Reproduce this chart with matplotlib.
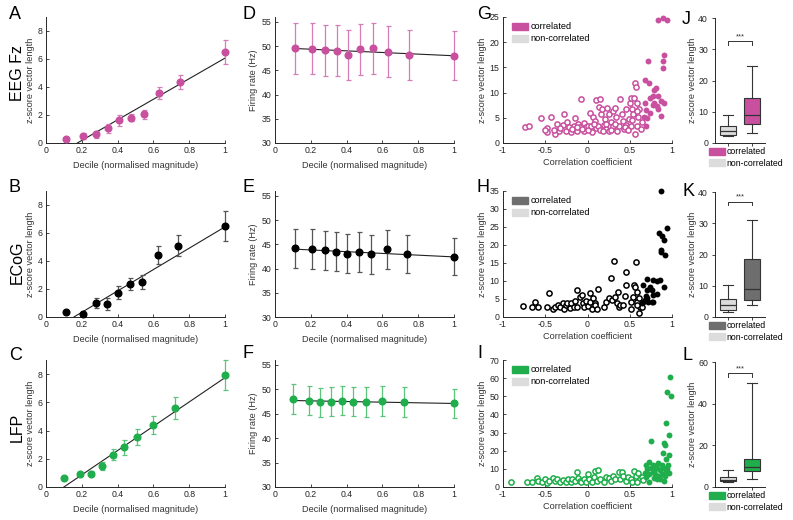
import matplotlib
matplotlib.use('Agg')
import matplotlib.pyplot as plt
import numpy as np
from matplotlib.patches import Patch

plt.rcParams['font.family'] = ['Liberation Sans', 'DejaVu Sans']
plt.rcParams['axes.unicode_minus'] = False

# ---------------- data ----------------
decile_A = [0.112, 0.209, 0.28, 0.345, 0.409, 0.476, 0.549, 0.632, 0.748, 1.0]
zvl_A = [0.28, 0.52, 0.62, 1.04, 1.63, 1.80, 2.06, 3.57, 4.36, 6.49]
zvl_A_err = [0.15, 0.2, 0.25, 0.3, 0.38, 0.25, 0.33, 0.42, 0.53, 0.85]
fit_A = (7.35, -1.286)
rate_D = [49.5, 49.45, 49.1, 49.05, 48.2, 49.3, 49.5, 48.85, 48.2, 48.0]
rate_D_err = [5.2, 5.3, 5.2, 5.2, 5.2, 5.3, 5.3, 5.3, 5.2, 5.1]
fit_D = (-1.69, 49.69)

decile_B = [0.11, 0.207, 0.277, 0.339, 0.4, 0.467, 0.538, 0.626, 0.739, 1.0]
zvl_B = [0.35, 0.2, 1.0, 0.95, 1.75, 2.35, 2.5, 4.42, 5.08, 6.48]
zvl_B_err = [0.08, 0.1, 0.38, 0.42, 0.48, 0.44, 0.5, 0.62, 0.75, 1.06]
fit_B = (7.63, -1.19)
rate_E = [44.2, 44.0, 43.8, 43.5, 43.1, 43.4, 42.9, 44.0, 43.0, 42.4]
rate_E_err = [4.0, 4.1, 4.0, 4.0, 4.1, 4.1, 4.0, 4.0, 3.9, 3.8]
fit_E = (-1.8, 44.2)

decile_C = [0.099, 0.188, 0.25, 0.311, 0.373, 0.436, 0.51, 0.6, 0.723, 1.0]
zvl_C = [0.62, 0.9, 0.95, 1.5, 2.3, 2.8, 3.55, 4.4, 5.6, 7.95]
zvl_C_err = [0.05, 0.1, 0.15, 0.3, 0.4, 0.5, 0.55, 0.65, 0.75, 1.05]
fit_C = (8.61, -0.861)
rate_F = [48.0, 47.7, 47.3, 47.5, 47.7, 47.5, 47.4, 47.6, 47.4, 47.1]
rate_F_err = [3.0, 3.0, 3.0, 3.0, 3.0, 3.0, 3.0, 3.0, 3.0, 3.0]
fit_F = (-0.67, 47.77)

# scatter G (EEG)
g_nc_r = [-0.74, -0.69, -0.55, -0.48, -0.48, -0.43, -0.38, -0.36, -0.34, -0.28, -0.29, -0.26, -0.24, -0.22,
          -0.2, -0.165, -0.145, -0.13, -0.11, -0.086, -0.08, -0.047, -0.04, -0.016, 0.01, 0.03, 0.05, 0.07,
          0.09, 0.1, 0.12, 0.15, 0.157, 0.1, 0.15, 0.14, 0.17, 0.19, 0.21, 0.22, 0.236, 0.25, 0.26, 0.275,
          0.3, 0.306, 0.32, 0.34, 0.35, 0.377, 0.405, 0.39, 0.416, 0.43, 0.456, 0.46, 0.495, 0.5, 0.51, 0.52,
          0.53, 0.54, 0.55, 0.56, 0.57, 0.58, 0.56, 0.59, 0.6, 0.61, 0.63, 0.64, 0.58, 0.53,
          -0.4, -0.32, -0.18, -0.06, 0.0, 0.04, 0.18, 0.28, 0.33, 0.44, 0.48, -0.5, -0.12, 0.22, 0.08]
g_nc_z = [3.2, 3.4, 4.9, 2.9, 2.1, 5.1, 1.8, 3.75, 2.4, 5.7, 3.6, 2.4, 4.1, 3.1,
          2.1, 3.4, 4.9, 2.4, 3.75, 3.1, 8.8, 3.9, 2.4, 3.1, 3.4, 5.9, 2.2, 5.1,
          4.4, 2.9, 3.4, 2.6, 5.7, 8.5, 8.8, 7.2, 6.7, 3.6, 4.7, 2.8, 7.0, 2.4, 5.7, 4.1,
          3.3, 6.4, 7.0, 5.1, 2.4, 3.4, 5.7, 8.7, 4.4, 2.8, 3.6, 6.7, 4.7, 8.0, 9.0, 3.4,
          6.7, 5.7, 9.0, 12.0, 11.2, 8.0, 1.8, 3.4, 5.1, 6.7, 2.8, 4.1, 6.4, 4.6,
          2.6, 3.0, 2.8, 2.7, 2.5, 3.3, 2.3, 2.5, 3.8, 3.2, 2.5, 2.6, 3.2, 3.8, 3.8]
g_c_r = [0.833, 0.892, 0.935, 0.91, 0.892, 0.89, 0.717, 0.686, 0.73, 0.81, 0.79, 0.77, 0.74, 0.84,
         0.68, 0.79, 0.82, 0.87, 0.90, 0.77, 0.69, 0.74, 0.67, 0.70, 0.87, 0.69, 0.83]
g_c_z = [24.4, 24.9, 24.5, 17.4, 16.2, 14.9, 16.2, 12.5, 12.0, 11.0, 10.6, 9.3, 9.0, 9.3,
         7.9, 7.9, 7.4, 8.4, 8.0, 7.5, 6.6, 5.9, 5.1, 4.9, 5.3, 3.4, 6.7]

# scatter H (ECoG)
h_nc_r = [-0.76, -0.66, -0.62, -0.58, -0.48, -0.45, -0.41, -0.38, -0.35, -0.32, -0.29, -0.28, -0.25, -0.24,
          -0.21, -0.19, -0.165, -0.145, -0.125, -0.12, -0.094, -0.067, -0.055, -0.04, -0.016, 0.0, 0.024,
          0.03, 0.05, 0.07, 0.09, 0.09, 0.12, 0.11, 0.2, 0.22, 0.25, 0.275, 0.31, 0.29, 0.33, 0.35, 0.365,
          0.377, 0.39, 0.42, 0.44, 0.45, 0.46, 0.51, 0.52, 0.54, 0.55, 0.57, 0.56, 0.58, 0.59, 0.61, 0.62,
          0.61, 0.64, 0.59]
h_nc_z = [3.0, 2.9, 4.2, 2.9, 2.9, 6.6, 2.1, 2.9, 3.3, 2.7, 3.8, 2.1, 3.3, 4.0,
          2.4, 4.0, 2.7, 4.5, 7.5, 2.9, 5.6, 6.1, 3.8, 2.7, 4.5, 3.0, 6.6,
          4.2, 2.1, 5.2, 4.0, 3.3, 7.7, 2.1, 2.9, 4.2, 5.2, 10.7, 15.6, 4.7, 5.6, 4.0, 7.0,
          2.9, 3.3, 3.3, 5.8, 12.4, 8.9, 4.2, 2.1, 5.6, 8.9, 15.3, 8.2, 7.0, 4.2, 5.2, 2.7,
          1.2, 2.9, 3.3]
h_c_r = [0.874, 0.94, 0.85, 0.88, 0.9, 0.87, 0.87, 0.92, 0.71, 0.77, 0.82, 0.86, 0.66, 0.74, 0.76,
         0.9, 0.7, 0.69, 0.78, 0.82, 0.68, 0.72, 0.76, 0.66, 0.64, 0.7, 0.78]
h_c_z = [34.9, 24.8, 23.4, 22.4, 21.5, 18.7, 18.1, 17.2, 10.5, 10.2, 10.0, 10.2, 8.9, 8.2, 7.5,
         8.2, 7.5, 5.8, 6.1, 6.4, 4.7, 4.2, 4.2, 4.2, 3.8, 5.2, 4.1]

# scatter I (LFP)
i_nc_r = [-0.9, -0.72, -0.66, -0.6, -0.58, -0.54, -0.5, -0.48, -0.45, -0.41, -0.39, -0.36, -0.33, -0.29,
          -0.26, -0.23, -0.2, -0.18, -0.15, -0.13, -0.11, -0.094, -0.074, -0.047, -0.023, 0.004, 0.02,
          0.055, 0.08, 0.09, 0.13, 0.11, 0.15, 0.19, 0.22, 0.25, 0.28, 0.3, 0.33, 0.375, 0.41, 0.39, 0.42,
          0.45, 0.48, 0.51, 0.55, 0.57, 0.6, 0.62, 0.64, 0.53, 0.59, 0.66]
i_nc_z = [2.7, 2.9, 2.9, 4.8, 3.3, 2.9, 4.2, 2.4, 3.3, 4.8, 3.3, 4.2, 2.9, 3.7,
          2.9, 4.2, 2.9, 4.2, 3.3, 8.2, 5.1, 3.3, 2.9, 4.2, 2.9, 6.9, 4.2,
          2.9, 5.5, 8.8, 9.1, 3.3, 4.2, 2.9, 5.5, 4.8, 3.3, 6.0, 4.2, 8.2, 8.2, 4.2, 6.0,
          3.3, 5.5, 4.2, 8.8, 6.0, 7.9, 4.2, 5.5, 2.9, 2.9, 3.7]
i_c_r = [0.973, 0.94, 0.988, 0.934, 0.96, 0.75, 0.91, 0.92, 0.97, 0.89, 0.93, 0.95, 0.69, 0.73, 0.77,
         0.8, 0.84, 0.88, 0.71, 0.75, 0.79, 0.82, 0.86, 0.9, 0.93, 0.68, 0.73, 0.77, 0.8, 0.84, 0.88,
         0.92, 0.96, 0.73, 0.69, 0.79, 0.82, 0.86, 0.9, 0.94]
i_c_z = [60.9, 52.6, 49.9, 35.3, 28.5, 25.6, 24.3, 23.4, 17.9, 18.8, 15.2, 12.1, 12.4, 13.9, 12.4,
         11.5, 13.3, 12.4, 9.7, 10.6, 9.1, 10.2, 9.1, 10.2, 8.8, 7.9, 6.9, 8.4, 7.3, 6.0, 6.9,
         6.0, 7.9, 2.7, 5.5, 5.1, 4.2, 4.2, 3.3, 9.7]

# box plots: (whislo, q1, med, q3, whishi) for [non-correlated, correlated]
box_J = [(2.3, 2.6, 3.9, 5.3, 8.9), (3.1, 6.1, 8.9, 14.4, 24.8)]
box_K = [(1.7, 2.2, 3.7, 5.7, 10.3), (3.9, 5.5, 9.0, 18.5, 31.1)]
box_L = [(2.4, 2.8, 3.6, 4.9, 8.0), (4.0, 7.6, 9.6, 13.5, 50.0)]
sig_J, sig_K, sig_L = 32.5, 36.8, 54.5
legend_labels = ['correlated', 'non-correlated']

# ---------------- layout ----------------
W, H = 793, 520
fig = plt.figure(figsize=(W / 100, H / 100), dpi=100)
AX = '#262626'
TXT = '#333333'
TS = 6.3   # tick label size
LS = 6.6   # axis label size


def add_ax(l, r, t, b):
    return fig.add_axes([l / W, 1 - b / H, (r - l) / W, (b - t) / H])


def style(ax, tickdir='in'):
    for s in ['top', 'right']:
        ax.spines[s].set_visible(False)
    for s in ['left', 'bottom']:
        ax.spines[s].set_color(AX)
        ax.spines[s].set_linewidth(0.7)
    ax.tick_params(direction=tickdir, length=2.5, width=0.6, labelsize=TS, colors=AX, pad=2.5)


pink, pink_e = '#c8509f', '#d47db8'
blk, blk_e = '#000000', '#555555'
grn, grn_e = '#1fae4b', '#5cc57c'
gray_c = '#6e6e6e'
nc_gray = '#dcdcdc'

rows = [(17, 143), (191, 317), (360, 487)]
row_data = [
    (decile_A, zvl_A, zvl_A_err, fit_A, rate_D, rate_D_err, fit_D, pink, pink_e,
     (g_nc_r, g_nc_z, g_c_r, g_c_z), 25, box_J, sig_J, 40, 'EEG Fz', 'ADGJ'),
    (decile_B, zvl_B, zvl_B_err, fit_B, rate_E, rate_E_err, fit_E, blk, blk_e,
     (h_nc_r, h_nc_z, h_c_r, h_c_z), 35, box_K, sig_K, 40, 'ECoG', 'BEHK'),
    (decile_C, zvl_C, zvl_C_err, fit_C, rate_F, rate_F_err, fit_F, grn, grn_e,
     (i_nc_r, i_nc_z, i_c_r, i_c_z), 70, box_L, sig_L, 60, 'LFP', 'CFIL'),
]
box_colors = [pink, gray_c, grn]
box_tops = [18, 192, 362]
letter_y = [[19, 19, 19, 24], [192, 192, 192, 196], [360, 358, 358, 360]]
rowlab_y = [73, 262, 427]

for i, ((t, b), rd) in enumerate(zip(rows, row_data)):
    (dec, zvl, zerr, fz, rate, rerr, fr, col, ecol, sc, sc_top, bstats, sig, btop, rowlab, letters) = rd

    # --- z-score vs decile
    ax = add_ax(46, 225, t, b)
    style(ax)
    xx = np.array([0.0, 1.0])
    ax.plot(xx, fz[0] * xx + fz[1], color='#222222', lw=0.8, zorder=1)
    eb = ax.errorbar(dec, zvl, yerr=zerr, fmt='o', ms=4.8, color=col, mec=col, ecolor=ecol,
                     elinewidth=0.9, capsize=1.8, capthick=0.9, zorder=3)
    for art in eb.get_children():
        art.set_clip_on(False)
    ax.set_xlim(0, 1)
    ax.set_ylim(0, 9)
    ax.set_xticks([0, 0.2, 0.4, 0.6, 0.8, 1])
    ax.set_xticklabels(['0', '0.2', '0.4', '0.6', '0.8', '1'])
    ax.set_yticks([0, 2, 4, 6, 8])
    ax.set_xlabel('Decile (normalised magnitude)', fontsize=LS, color=TXT, labelpad=4)
    ax.set_ylabel('z-score vector length', fontsize=LS, color=TXT, labelpad=2)

    # --- firing rate vs decile
    ax = add_ax(275, 454, t, b)
    style(ax)
    ax.plot([dec[0], 1.0], [fr[0] * dec[0] + fr[1], fr[0] * 1.0 + fr[1]], color='#222222', lw=0.8, zorder=1)
    eb = ax.errorbar(dec, rate, yerr=rerr, fmt='o', ms=4.8, color=col, mec=col, ecolor=ecol,
                     elinewidth=0.9, capsize=1.8, capthick=0.9, zorder=3)
    for art in eb.get_children():
        art.set_clip_on(False)
    ax.set_xlim(0, 1)
    ax.set_ylim(30, 56)
    ax.set_xticks([0, 0.2, 0.4, 0.6, 0.8, 1])
    ax.set_xticklabels(['0', '0.2', '0.4', '0.6', '0.8', '1'])
    ax.set_yticks([30, 35, 40, 45, 50, 55])
    ax.set_xlabel('Decile (normalised magnitude)', fontsize=LS, color=TXT, labelpad=4)
    ax.set_ylabel('Firing rate (Hz)', fontsize=LS, color=TXT, labelpad=3)

    # --- scatter
    ax = add_ax(503, 672, t, b)
    style(ax)
    nc_r, nc_z, c_r, c_z = sc
    ax.scatter(nc_r, nc_z, s=14, facecolors='white', edgecolors=col, linewidths=1.1, zorder=2, clip_on=False)
    ax.scatter(c_r, c_z, s=18, color=col, linewidths=0, zorder=3, clip_on=False)
    ax.set_xlim(-1, 1)
    ax.set_ylim(0, sc_top)
    ax.set_xticks([-1, -0.5, 0, 0.5, 1])
    ax.set_xticklabels(['-1', '-0.5', '0', '0.5', '1'])
    step = 10 if sc_top > 40 else 5
    ax.set_yticks(np.arange(0, sc_top + 1, step))
    ax.set_xlabel('Correlation coefficient', fontsize=LS, color=TXT, labelpad=2)
    ax.set_ylabel('z-score vector length', fontsize=LS, color=TXT, labelpad=2)
    bc = box_colors[i]
    ax.legend([Patch(color=bc), Patch(color=nc_gray)], legend_labels, loc='upper left',
              frameon=False, fontsize=LS, handlelength=1.75, handleheight=0.8, handletextpad=0.3,
              labelspacing=0.3, borderaxespad=0.2, bbox_to_anchor=(0.02, 1.0))

    # --- box plot
    ax = add_ax(715, 765, box_tops[i], b)
    style(ax, tickdir='out')
    stats = []
    for (lo, q1, med, q3, hi), lab in zip(bstats, ['nc', 'c']):
        stats.append(dict(whislo=lo, q1=q1, med=med, q3=q3, whishi=hi, fliers=[], label=lab))
    bp = ax.bxp(stats, positions=[1, 2], widths=0.68, patch_artist=True, showfliers=False,
                boxprops=dict(linewidth=0.8, edgecolor='#333333'),
                medianprops=dict(color='#333333', linewidth=0.9),
                whiskerprops=dict(color='#333333', linewidth=0.8),
                capprops=dict(color='#333333', linewidth=0.8), capwidths=0.42)
    bp['boxes'][0].set_facecolor(nc_gray)
    bp['boxes'][1].set_facecolor(bc)
    ax.set_xlim(0.46, 2.54)
    ax.set_ylim(0, btop)
    ax.set_xticks([1, 2])
    ax.set_xticklabels(['', ''])
    ax.set_yticks(np.arange(0, btop + 1, 10 if btop == 40 else 20))
    ax.set_ylabel('z-score vector length', fontsize=LS, color=TXT, labelpad=1)
    dy = btop * 0.025
    ax.plot([1, 1, 2, 2], [sig - dy, sig, sig, sig - dy], color='#333333', lw=0.7, clip_on=False)
    ax.text(1.5, sig + btop * 0.01, '***', ha='center', va='bottom', fontsize=5.5, color='#333333')
    ax.legend([Patch(color=bc), Patch(color=nc_gray)], legend_labels, loc='upper left',
              frameon=False, fontsize=6.3, handlelength=1.8, handleheight=0.8, handletextpad=0.25,
              labelspacing=0.3, borderaxespad=0.0, borderpad=0.2, bbox_to_anchor=(-0.16, -0.02))

    # --- row label and panel letters
    fig.text(17 / W, 1 - rowlab_y[i] / H, rowlab, rotation=90, ha='center', va='center',
             fontsize=11.5, color='black')
    lx = [9, 243, 477, 682]
    for L, x, ly in zip(letters, lx, letter_y[i]):
        fig.text(x / W, 1 - ly / H, L, fontsize=13, color='black', va='baseline')

fig.savefig('out.png', dpi=100)
